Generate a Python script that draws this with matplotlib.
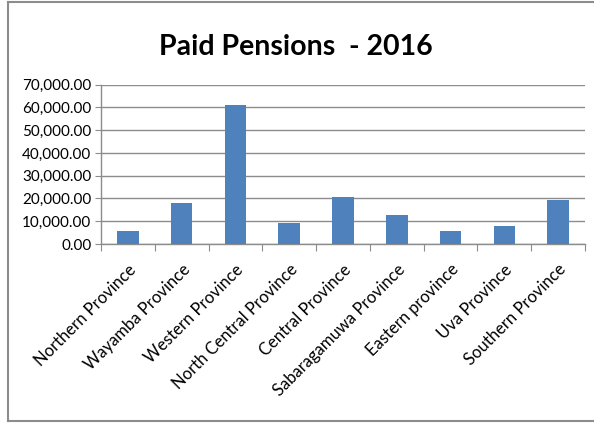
import matplotlib
matplotlib.use("Agg")
import matplotlib.pyplot as plt
from matplotlib.lines import Line2D
from matplotlib.ticker import FuncFormatter

provinces = [
    "Northern Province",
    "Wayamba Province",
    "Western Province",
    "North Central Province",
    "Central Province",
    "Sabaragamuwa Province",
    "Eastern province",
    "Uva Province",
    "Southern Province",
]
paid_pensions = [5850, 18100, 61200, 9050, 20500, 12900, 5850, 7900, 19300]
y_ticks = [0, 10000, 20000, 30000, 40000, 50000, 60000, 70000]

BAR_COLOR = "#4F81BD"
GRID_COLOR = "#8C8C8C"
FONT = ["Lato", "DejaVu Sans"]

W, H, DPI = 594, 423, 100
fig = plt.figure(figsize=(W / DPI, H / DPI), dpi=DPI)
fig.patch.set_facecolor("white")

# plot area in pixel units
left, right, top, bottom = 101, 585, 84.7, 244
ax = fig.add_axes([left / W, 1 - bottom / H, (right - left) / W, (bottom - top) / H])

x = range(len(provinces))
ax.bar(x, paid_pensions, width=0.4, color=BAR_COLOR, zorder=3)

ax.set_xlim(-0.5, len(provinces) - 0.5)
ax.set_ylim(0, 70000)
ax.set_yticks(y_ticks)
ax.yaxis.set_major_formatter(FuncFormatter(lambda v, _: f"{v:,.2f}"))
ax.grid(axis="y", color=GRID_COLOR, linewidth=1.0, zorder=0)

# category boundary ticks on the x axis
ax.set_xticks([i - 0.5 for i in range(len(provinces) + 1)], minor=False)
ax.set_xticklabels([])
ax.set_xticks(list(x), minor=True)
ax.set_xticklabels(provinces, minor=True, rotation=45, ha="right",
                   rotation_mode="anchor", fontsize=12, family=FONT)
ax.tick_params(axis="x", which="minor", length=0, pad=12.5)
ax.tick_params(axis="x", which="major", length=5, color=GRID_COLOR, direction="out")
ax.tick_params(axis="y", length=4, color=GRID_COLOR, labelsize=11, pad=3)
for lbl in ax.get_yticklabels():
    lbl.set_family(FONT)

for side in ["top", "right"]:
    ax.spines[side].set_visible(False)
for side in ["left", "bottom"]:
    ax.spines[side].set_color(GRID_COLOR)
    ax.spines[side].set_linewidth(1.0)

fig.text(296 / W, 1 - 55 / H, "Paid Pensions  - 2016", ha="center", va="baseline",
         fontsize=20.5, fontweight="bold", family=FONT)

# outer chart frame
frame = dict(color="#8C8C8C", linewidth=1.5, transform=fig.transFigure)
fig.add_artist(Line2D([8 / W, 8 / W], [1 - 2 / H, 1 - 421 / H], **frame))
fig.add_artist(Line2D([8 / W, 1], [1 - 2 / H, 1 - 2 / H], **frame))
fig.add_artist(Line2D([8 / W, 1], [1 - 421 / H, 1 - 421 / H], **frame))

fig.savefig("out.png", dpi=DPI, facecolor="white")
plt.close(fig)
